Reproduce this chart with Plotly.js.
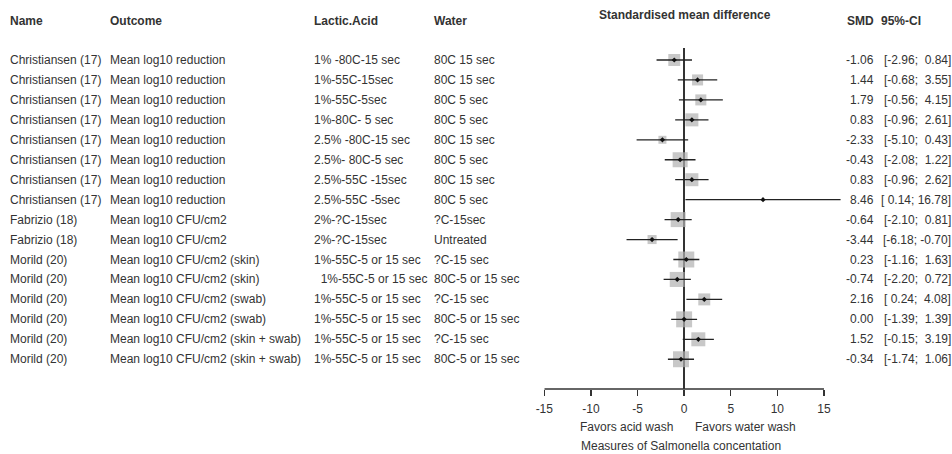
<!DOCTYPE html>
<html>
<head>
<meta charset="utf-8">
<script src="https://cdn.plot.ly/plotly-3.0.1.min.js"></script>
<style>html,body{margin:0;padding:0;background:#fff;}#chart{width:952px;height:454px;}</style>
</head>
<body>
<div id="chart"></div>
<script>
// ---- data ----
const names = [
  'Christiansen (17)','Christiansen (17)','Christiansen (17)','Christiansen (17)',
  'Christiansen (17)','Christiansen (17)','Christiansen (17)','Christiansen (17)',
  'Fabrizio (18)','Fabrizio (18)',
  'Morild (20)','Morild (20)','Morild (20)','Morild (20)','Morild (20)','Morild (20)'
];
const outcomes = [
  'Mean log10 reduction','Mean log10 reduction','Mean log10 reduction','Mean log10 reduction',
  'Mean log10 reduction','Mean log10 reduction','Mean log10 reduction','Mean log10 reduction',
  'Mean log10 CFU/cm2','Mean log10 CFU/cm2',
  'Mean log10 CFU/cm2 (skin)','Mean log10 CFU/cm2 (skin)',
  'Mean log10 CFU/cm2 (swab)','Mean log10 CFU/cm2 (swab)',
  'Mean log10 CFU/cm2 (skin + swab)','Mean log10 CFU/cm2 (skin + swab)'
];
const lacticAcid = [
  '1% -80C-15 sec','1%-55C-15sec','1%-55C-5sec','1%-80C- 5 sec',
  '2.5% -80C-15 sec','2.5%- 80C-5 sec','2.5%-55C -15sec','2.5%-55C -5sec',
  '2%-?C-15sec','2%-?C-15sec',
  '1%-55C-5 or 15 sec','\u00a0\u00a01%-55C-5 or 15 sec','1%-55C-5 or 15 sec',
  '1%-55C-5 or 15 sec','1%-55C-5 or 15 sec','1%-55C-5 or 15 sec'
];
const water = [
  '80C 15 sec','80C 15 sec','80C 5 sec','80C 5 sec',
  '80C 15 sec','80C 5 sec','80C 15 sec','80C 5 sec',
  '?C-15sec','Untreated',
  '?C-15 sec','80C-5 or 15 sec','?C-15 sec','80C-5 or 15 sec','?C-15 sec','80C-5 or 15 sec'
];
const smd   = [-1.06, 1.44, 1.79, 0.83, -2.33, -0.43, 0.83, 8.46, -0.64, -3.44, 0.23, -0.74, 2.16, 0.00, 1.52, -0.34];
const lower = [-2.96, -0.68, -0.56, -0.96, -5.10, -2.08, -0.96, 0.14, -2.10, -6.18, -1.16, -2.20, 0.24, -1.39, -0.15, -1.74];
const upper = [0.84, 3.55, 4.15, 2.61, 0.43, 1.22, 2.62, 16.78, 0.81, -0.70, 1.63, 0.72, 4.08, 1.39, 3.19, 1.06];
// estimated study weights (%) read from the square areas
const weights = [5.4, 4.6, 4.6, 6.4, 2.4, 8.5, 6.4, 0.1, 8.5, 3.1, 9.6, 8.5, 5.4, 9.6, 7.4, 9.6];
const xTicks = [-15, -10, -5, 0, 5, 10, 15];

// ---- helpers ----
const W = 952, H = 454;
const px = x => x / W;
const py = y => 1 - y / H;
const rows = names.map((_, i) => i);
const NB = '\u00a0';
const pad5 = v => { let s = v.toFixed(2); while (s.length < 5) s = NB + s; return s; };

const txtColor = '#333333';
const fontFam = '"Liberation Sans", Arial, Helvetica, sans-serif';

// ---- traces ----
const squares = {
  type: 'scatter', mode: 'markers', x: smd, y: rows,
  marker: { symbol: 'square', color: '#b0b0b0', size: weights.map(w => 5.15 * Math.sqrt(w)), line: { width: 0 } },
  hoverinfo: 'skip', cliponaxis: false
};
const ciX = [], ciY = [];
rows.forEach(i => { ciX.push(lower[i], upper[i], null); ciY.push(i, i, null); });
const ciLines = {
  type: 'scatter', mode: 'lines', x: ciX, y: ciY,
  line: { color: '#222222', width: 1.3 }, hoverinfo: 'skip'
};
const dots = {
  type: 'scatter', mode: 'markers', x: smd, y: rows,
  marker: { symbol: 'diamond', color: '#111111', size: 4 }, hoverinfo: 'skip', cliponaxis: false
};

// ---- annotations (table text) ----
const ann = [];
const addText = (text, x, yref, y, anchor, bold, extra) => {
  ann.push(Object.assign({
    text: bold ? '<b>' + text + '</b>' : text,
    xref: 'paper', x: x, yref: yref, y: y,
    xanchor: anchor, yanchor: 'middle', showarrow: false,
    font: { family: fontFam, size: 12, color: txtColor }
  }, extra || {}));
};
const colName = px(8), colOut = px(108), colLac = px(312), colWat = px(432);
const hdrY = py(21);
addText('Name', colName, 'paper', hdrY, 'left', true);
addText('Outcome', colOut, 'paper', hdrY, 'left', true);
addText('Lactic.Acid', colLac, 'paper', hdrY, 'left', true);
addText('Water', colWat, 'paper', hdrY, 'left', true);
addText('Standardised mean difference', px(685), 'paper', py(15), 'center', true);
addText('SMD', px(876), 'paper', hdrY, 'right', true);
addText('95%-CI', px(879), 'paper', hdrY, 'left', true);

rows.forEach(i => {
  addText(names[i], colName, 'y', i, 'left', false);
  addText(outcomes[i], colOut, 'y', i, 'left', false);
  addText(lacticAcid[i], colLac, 'y', i, 'left', false);
  addText(water[i], colWat, 'y', i, 'left', false);
  addText(smd[i].toFixed(2), px(876), 'y', i, 'right', false);
  addText('[' + pad5(lower[i]) + ';' + NB + pad5(upper[i]) + ']', px(953), 'y', i, 'right', false);
});

// bottom labels
ann.push({ text: 'Favors acid wash', xref: 'x', x: 0, xshift: -9, yref: 'paper', y: py(427),
  xanchor: 'right', yanchor: 'middle', showarrow: false, font: { family: fontFam, size: 12, color: txtColor } });
ann.push({ text: 'Favors water wash', xref: 'x', x: 0, xshift: 9, yref: 'paper', y: py(427),
  xanchor: 'left', yanchor: 'middle', showarrow: false, font: { family: fontFam, size: 12, color: txtColor } });
ann.push({ text: 'Measures of Salmonella concentation', xref: 'x', x: 0, xshift: -3, yref: 'paper', y: py(446),
  xanchor: 'center', yanchor: 'middle', showarrow: false, font: { family: fontFam, size: 12, color: txtColor } });

// ---- layout ----
const plotTop = 48, plotBottom = 389, rowTop = 60, rowStep = 19.95;
const yTopVal = (plotTop - rowTop) / rowStep;
const yBotVal = (plotBottom - rowTop) / rowStep;
const xLeftPx = 544.3, pxPerUnit = 9.323, xMax = 17.5;
const xRightPx = xLeftPx + (xMax - xTicks[0]) * pxPerUnit;

const layout = {
  width: W, height: H,
  margin: { l: 0, r: 0, t: 0, b: 0, pad: 0 },
  paper_bgcolor: '#ffffff', plot_bgcolor: 'rgba(0,0,0,0)',
  showlegend: false,
  font: { family: fontFam, size: 12, color: txtColor },
  xaxis: {
    domain: [px(xLeftPx), px(xRightPx)],
    range: [xTicks[0], xMax],
    tickmode: 'array', tickvals: xTicks, ticktext: xTicks.map(String),
    ticks: 'outside', ticklen: 6, tickwidth: 1.3, tickcolor: '#333333',
    ticklabelstandoff: 3,
    showline: false, showgrid: false,
    zeroline: true, zerolinecolor: '#333333', zerolinewidth: 1.3,
    tickfont: { family: fontFam, size: 12, color: txtColor },
    fixedrange: true
  },
  yaxis: {
    domain: [py(plotBottom), py(plotTop)],
    range: [yBotVal, yTopVal],
    showticklabels: false, showgrid: false, zeroline: false, showline: false, ticks: '',
    fixedrange: true
  },
  shapes: [{
    type: 'line', xref: 'x', yref: 'paper',
    x0: xTicks[0], x1: xTicks[xTicks.length - 1], y0: py(plotBottom), y1: py(plotBottom),
    line: { color: '#333333', width: 1.3 }
  }],
  annotations: ann
};

Plotly.newPlot('chart', [squares, ciLines, dots], layout, { displayModeBar: false, staticPlot: true });
</script>
</body>
</html>
